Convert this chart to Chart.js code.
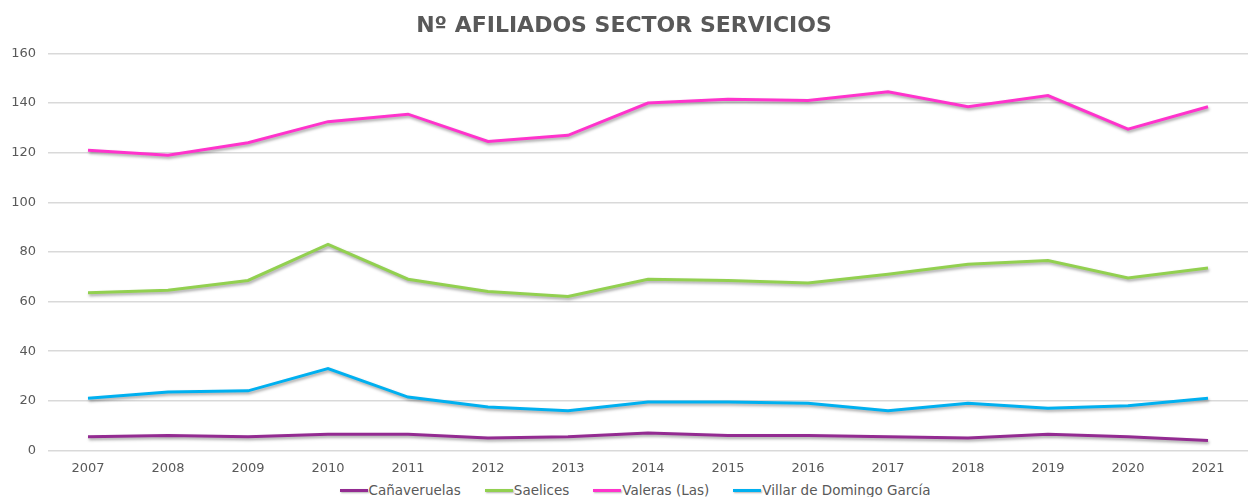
<!DOCTYPE html>
<html>
<head>
<meta charset="utf-8">
<script src="https://cdn.jsdelivr.net/npm/chart.js@4.4.1/dist/chart.umd.min.js"></script>
<style>
  html, body { margin: 0; padding: 0; background: #fff; overflow: hidden; }
  #wrap { width: 1248px; height: 486px; position: relative; }
  #legend {
    width: 1248px; height: 14px; margin-top: -3px; box-sizing: border-box; padding-left: 22px;
    display: flex; justify-content: center; align-items: center;
    font-family: Verdana, "DejaVu Sans", sans-serif; font-size: 13.5px; color: #595959;
  }
  .item { display: flex; align-items: center; margin: 0 12px; white-space: nowrap; }
  .swatch { width: 28px; height: 3px; margin-right: 1px; box-shadow: 1px 1px 2px rgba(0,0,0,0.3); }
</style>
</head>
<body>
<div id="wrap"><canvas id="chart"></canvas></div>
<div id="legend"></div>
<script>
const YEARS = ['2007', '2008', '2009', '2010', '2011', '2012', '2013', '2014', '2015', '2016', '2017', '2018', '2019', '2020', '2021'];

const CANAVERUELAS = [5.5, 6, 5.5, 6.5, 6.5, 5, 5.5, 7, 6, 6, 5.5, 5, 6.5, 5.5, 4];
const SAELICES = [63.5, 64.5, 68.5, 83, 69, 64, 62, 69, 68.5, 67.5, 71, 75, 76.5, 69.5, 73.5];
const VALERAS = [121, 119, 124, 132.5, 135.5, 124.5, 127, 140, 141.5, 141, 144.5, 138.5, 143, 129.5, 138.5];
const VILLAR = [21, 23.5, 24, 33, 21.5, 17.5, 16, 19.5, 19.5, 19, 16, 19, 17, 18, 21];

const TEXT_COLOR = '#595959';
const GRID_COLOR = '#d9d9d9';
const FONT = 'Verdana, "DejaVu Sans", sans-serif';

// soft grey drop shadow under the lines, like the office chart
const shadowPlugin = {
    id: 'lineShadow',
    beforeDatasetsDraw(chart) {
        const ctx = chart.ctx;
        ctx.save();
        ctx.shadowColor = 'rgba(0, 0, 0, 0.35)';
        ctx.shadowBlur = 3;
        ctx.shadowOffsetX = 1;
        ctx.shadowOffsetY = 2;
    },
    afterDatasetsDraw(chart) {
        chart.ctx.restore();
    }
};

function series(label, data, color) {
    return {
        label: label,
        data: data,
        borderColor: color,
        backgroundColor: color,
        borderWidth: 3,
        pointRadius: 0,
        tension: 0,
        fill: false,
    };
}

const ctx = document.getElementById('chart').getContext('2d');
const chart = new Chart(ctx, {
    type: 'line',
    data: {
        labels: YEARS,
        datasets: [
            series('Cañaveruelas', CANAVERUELAS, '#932b91'),
            series('Saelices', SAELICES, '#92d050'),
            series('Valeras (Las)', VALERAS, '#ff33cc'),
            series('Villar de Domingo García', VILLAR, '#00b0f0'),
        ],
    },
    plugins: [shadowPlugin],
    options: {
        responsive: true,
        maintainAspectRatio: false,
        animation: false,
        layout: { padding: 0 },
        scales: {
            x: {
                offset: true,
                grid: { display: false, drawTicks: false },
                border: { display: false },
                ticks: {
                    color: TEXT_COLOR,
                    font: { family: FONT, size: 13 },
                    padding: 10,
                    maxRotation: 0,
                },
            },
            y: {
                min: 0,
                max: 160,
                afterFit(scale) { scale.width = 48; },
                grid: { color: GRID_COLOR, lineWidth: 1.5, drawTicks: true, tickLength: 12, tickColor: 'rgba(0,0,0,0)' },
                border: { display: false },
                ticks: {
                    stepSize: 20,
                    color: TEXT_COLOR,
                    font: { family: FONT, size: 13 },
                    padding: 0,
                },
            },
        },
        plugins: {
            title: {
                display: true,
                text: 'Nº AFILIADOS SECTOR SERVICIOS',
                color: TEXT_COLOR,
                font: { family: FONT, size: 22, weight: 'bold' },
                padding: { top: 13, bottom: 14 },
            },
            legend: { display: false },
            tooltip: { enabled: false },
        },
    },
});

// legend built from the datasets: line swatch right against the text, as in the office chart
const legendEl = document.getElementById('legend');
chart.data.datasets.forEach(ds => {
    const item = document.createElement('span');
    item.className = 'item';
    const sw = document.createElement('span');
    sw.className = 'swatch';
    sw.style.background = ds.borderColor;
    item.appendChild(sw);
    item.appendChild(document.createTextNode(ds.label));
    legendEl.appendChild(item);
});
</script>
</body>
</html>
